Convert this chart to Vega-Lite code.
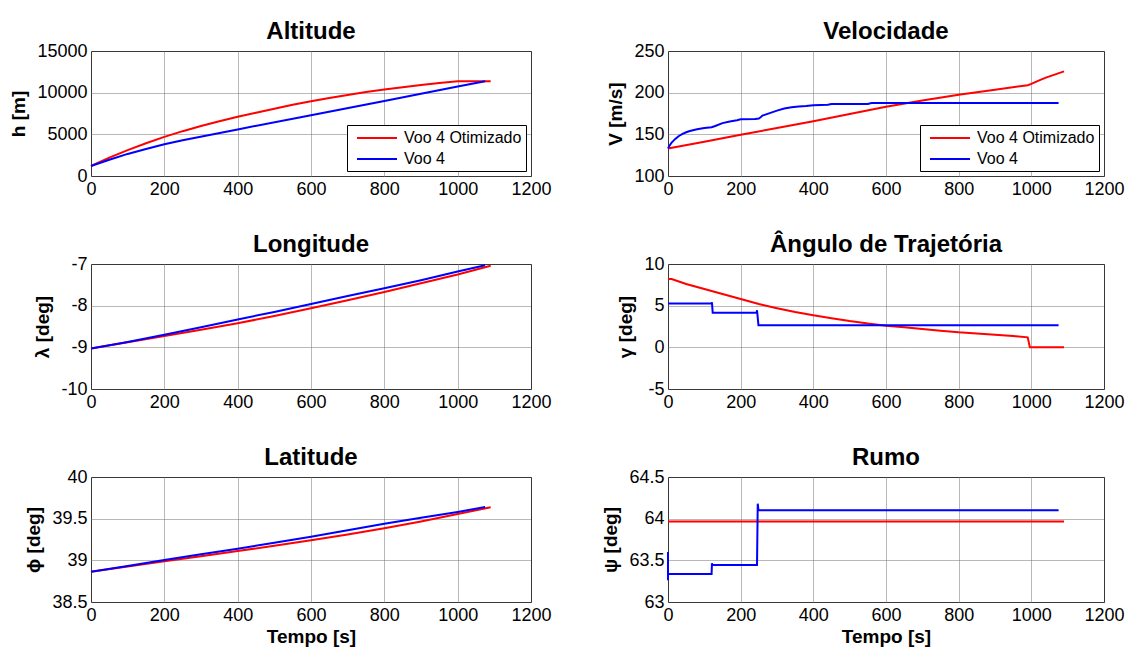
{
  "$schema": "https://vega.github.io/schema/vega-lite/v6.json",
  "background": "white",
  "padding": {"left": 9, "top": 19, "right": 5, "bottom": 5},
  "columns": 2,
  "bounds": "flush",
  "spacing": {"row": 88, "column": 137},
  "datasets": {
    "alt": [
      {"s": "Voo 4 Otimizado", "t": 0, "v": 1200}, {"s": "Voo 4 Otimizado", "t": 50, "v": 2200}, {"s": "Voo 4 Otimizado", "t": 100, "v": 3100},
      {"s": "Voo 4 Otimizado", "t": 150, "v": 3930}, {"s": "Voo 4 Otimizado", "t": 200, "v": 4700}, {"s": "Voo 4 Otimizado", "t": 250, "v": 5380},
      {"s": "Voo 4 Otimizado", "t": 300, "v": 6000}, {"s": "Voo 4 Otimizado", "t": 350, "v": 6580}, {"s": "Voo 4 Otimizado", "t": 400, "v": 7100},
      {"s": "Voo 4 Otimizado", "t": 450, "v": 7600}, {"s": "Voo 4 Otimizado", "t": 500, "v": 8080}, {"s": "Voo 4 Otimizado", "t": 550, "v": 8550},
      {"s": "Voo 4 Otimizado", "t": 600, "v": 8980}, {"s": "Voo 4 Otimizado", "t": 650, "v": 9370}, {"s": "Voo 4 Otimizado", "t": 700, "v": 9730},
      {"s": "Voo 4 Otimizado", "t": 750, "v": 10070}, {"s": "Voo 4 Otimizado", "t": 800, "v": 10380}, {"s": "Voo 4 Otimizado", "t": 850, "v": 10660},
      {"s": "Voo 4 Otimizado", "t": 900, "v": 10930}, {"s": "Voo 4 Otimizado", "t": 950, "v": 11160}, {"s": "Voo 4 Otimizado", "t": 1000, "v": 11360},
      {"s": "Voo 4 Otimizado", "t": 1090, "v": 11370},
      {"s": "Voo 4", "t": 0, "v": 1200}, {"s": "Voo 4", "t": 50, "v": 1950}, {"s": "Voo 4", "t": 100, "v": 2650},
      {"s": "Voo 4", "t": 150, "v": 3250}, {"s": "Voo 4", "t": 200, "v": 3800}, {"s": "Voo 4", "t": 250, "v": 4300},
      {"s": "Voo 4", "t": 400, "v": 5590}, {"s": "Voo 4", "t": 600, "v": 7300}, {"s": "Voo 4", "t": 800, "v": 9010},
      {"s": "Voo 4", "t": 1000, "v": 10730}, {"s": "Voo 4", "t": 1075, "v": 11370}
    ],
    "vel": [
      {"s": "Voo 4 Otimizado", "t": 0, "v": 133}, {"s": "Voo 4 Otimizado", "t": 100, "v": 141}, {"s": "Voo 4 Otimizado", "t": 200, "v": 149.5},
      {"s": "Voo 4 Otimizado", "t": 300, "v": 157.5}, {"s": "Voo 4 Otimizado", "t": 400, "v": 165.8}, {"s": "Voo 4 Otimizado", "t": 500, "v": 174.5},
      {"s": "Voo 4 Otimizado", "t": 600, "v": 183}, {"s": "Voo 4 Otimizado", "t": 700, "v": 190.5}, {"s": "Voo 4 Otimizado", "t": 800, "v": 197.5},
      {"s": "Voo 4 Otimizado", "t": 900, "v": 203.5}, {"s": "Voo 4 Otimizado", "t": 990, "v": 209}, {"s": "Voo 4 Otimizado", "t": 1000, "v": 210.5},
      {"s": "Voo 4 Otimizado", "t": 1020, "v": 214.5}, {"s": "Voo 4 Otimizado", "t": 1040, "v": 218}, {"s": "Voo 4 Otimizado", "t": 1060, "v": 221},
      {"s": "Voo 4 Otimizado", "t": 1090, "v": 225.5},
      {"s": "Voo 4", "t": 0, "v": 133}, {"s": "Voo 4", "t": 5, "v": 137}, {"s": "Voo 4", "t": 10, "v": 140},
      {"s": "Voo 4", "t": 20, "v": 144.5}, {"s": "Voo 4", "t": 30, "v": 148}, {"s": "Voo 4", "t": 40, "v": 150.5},
      {"s": "Voo 4", "t": 50, "v": 152.5}, {"s": "Voo 4", "t": 60, "v": 154}, {"s": "Voo 4", "t": 80, "v": 156},
      {"s": "Voo 4", "t": 100, "v": 157.5}, {"s": "Voo 4", "t": 120, "v": 158.5}, {"s": "Voo 4", "t": 130, "v": 160},
      {"s": "Voo 4", "t": 150, "v": 163.5}, {"s": "Voo 4", "t": 170, "v": 165.5}, {"s": "Voo 4", "t": 190, "v": 167},
      {"s": "Voo 4", "t": 200, "v": 168}, {"s": "Voo 4", "t": 240, "v": 168.5}, {"s": "Voo 4", "t": 250, "v": 169},
      {"s": "Voo 4", "t": 255, "v": 170.5}, {"s": "Voo 4", "t": 260, "v": 172.5}, {"s": "Voo 4", "t": 280, "v": 175.5},
      {"s": "Voo 4", "t": 300, "v": 178.5}, {"s": "Voo 4", "t": 320, "v": 181}, {"s": "Voo 4", "t": 340, "v": 182.5},
      {"s": "Voo 4", "t": 360, "v": 183.5}, {"s": "Voo 4", "t": 380, "v": 184}, {"s": "Voo 4", "t": 400, "v": 185},
      {"s": "Voo 4", "t": 440, "v": 185.5}, {"s": "Voo 4", "t": 450, "v": 186.5}, {"s": "Voo 4", "t": 550, "v": 186.5},
      {"s": "Voo 4", "t": 560, "v": 187.5}, {"s": "Voo 4", "t": 1075, "v": 187.5}
    ],
    "lon": [
      {"s": "Voo 4 Otimizado", "t": 0, "v": -9.03}, {"s": "Voo 4 Otimizado", "t": 100, "v": -8.88}, {"s": "Voo 4 Otimizado", "t": 200, "v": -8.73},
      {"s": "Voo 4 Otimizado", "t": 300, "v": -8.58}, {"s": "Voo 4 Otimizado", "t": 400, "v": -8.42}, {"s": "Voo 4 Otimizado", "t": 500, "v": -8.25},
      {"s": "Voo 4 Otimizado", "t": 600, "v": -8.06}, {"s": "Voo 4 Otimizado", "t": 700, "v": -7.87}, {"s": "Voo 4 Otimizado", "t": 800, "v": -7.67},
      {"s": "Voo 4 Otimizado", "t": 900, "v": -7.46}, {"s": "Voo 4 Otimizado", "t": 1000, "v": -7.25}, {"s": "Voo 4 Otimizado", "t": 1090, "v": -7.04},
      {"s": "Voo 4", "t": 0, "v": -9.03}, {"s": "Voo 4", "t": 100, "v": -8.87}, {"s": "Voo 4", "t": 200, "v": -8.70},
      {"s": "Voo 4", "t": 300, "v": -8.52}, {"s": "Voo 4", "t": 400, "v": -8.33}, {"s": "Voo 4", "t": 500, "v": -8.15},
      {"s": "Voo 4", "t": 600, "v": -7.96}, {"s": "Voo 4", "t": 700, "v": -7.77}, {"s": "Voo 4", "t": 800, "v": -7.58},
      {"s": "Voo 4", "t": 900, "v": -7.39}, {"s": "Voo 4", "t": 1000, "v": -7.18}, {"s": "Voo 4", "t": 1075, "v": -7.03}
    ],
    "gam": [
      {"s": "Voo 4 Otimizado", "t": 0, "v": 8.2}, {"s": "Voo 4 Otimizado", "t": 10, "v": 8.2}, {"s": "Voo 4 Otimizado", "t": 50, "v": 7.6},
      {"s": "Voo 4 Otimizado", "t": 100, "v": 7.0}, {"s": "Voo 4 Otimizado", "t": 150, "v": 6.4}, {"s": "Voo 4 Otimizado", "t": 200, "v": 5.8},
      {"s": "Voo 4 Otimizado", "t": 250, "v": 5.2}, {"s": "Voo 4 Otimizado", "t": 300, "v": 4.7}, {"s": "Voo 4 Otimizado", "t": 350, "v": 4.25},
      {"s": "Voo 4 Otimizado", "t": 400, "v": 3.85}, {"s": "Voo 4 Otimizado", "t": 450, "v": 3.5}, {"s": "Voo 4 Otimizado", "t": 500, "v": 3.15},
      {"s": "Voo 4 Otimizado", "t": 550, "v": 2.85}, {"s": "Voo 4 Otimizado", "t": 600, "v": 2.6}, {"s": "Voo 4 Otimizado", "t": 650, "v": 2.4},
      {"s": "Voo 4 Otimizado", "t": 700, "v": 2.2}, {"s": "Voo 4 Otimizado", "t": 750, "v": 2.0}, {"s": "Voo 4 Otimizado", "t": 800, "v": 1.8},
      {"s": "Voo 4 Otimizado", "t": 850, "v": 1.65}, {"s": "Voo 4 Otimizado", "t": 900, "v": 1.5}, {"s": "Voo 4 Otimizado", "t": 950, "v": 1.35},
      {"s": "Voo 4 Otimizado", "t": 990, "v": 1.2}, {"s": "Voo 4 Otimizado", "t": 996, "v": 0}, {"s": "Voo 4 Otimizado", "t": 1090, "v": 0},
      {"s": "Voo 4", "t": 0, "v": 5.25}, {"s": "Voo 4", "t": 120, "v": 5.25}, {"s": "Voo 4", "t": 121, "v": 5.4},
      {"s": "Voo 4", "t": 123, "v": 4.15}, {"s": "Voo 4", "t": 244, "v": 4.15}, {"s": "Voo 4", "t": 245, "v": 4.45},
      {"s": "Voo 4", "t": 249, "v": 2.65}, {"s": "Voo 4", "t": 1075, "v": 2.65}
    ],
    "lat": [
      {"s": "Voo 4 Otimizado", "t": 0, "v": 38.864}, {"s": "Voo 4 Otimizado", "t": 100, "v": 38.925}, {"s": "Voo 4 Otimizado", "t": 200, "v": 38.988},
      {"s": "Voo 4 Otimizado", "t": 300, "v": 39.05}, {"s": "Voo 4 Otimizado", "t": 400, "v": 39.112}, {"s": "Voo 4 Otimizado", "t": 500, "v": 39.175},
      {"s": "Voo 4 Otimizado", "t": 600, "v": 39.24}, {"s": "Voo 4 Otimizado", "t": 700, "v": 39.31}, {"s": "Voo 4 Otimizado", "t": 800, "v": 39.384},
      {"s": "Voo 4 Otimizado", "t": 900, "v": 39.465}, {"s": "Voo 4 Otimizado", "t": 1000, "v": 39.556}, {"s": "Voo 4 Otimizado", "t": 1090, "v": 39.636},
      {"s": "Voo 4", "t": 0, "v": 38.864}, {"s": "Voo 4", "t": 100, "v": 38.933}, {"s": "Voo 4", "t": 200, "v": 39.004},
      {"s": "Voo 4", "t": 300, "v": 39.072}, {"s": "Voo 4", "t": 400, "v": 39.14}, {"s": "Voo 4", "t": 500, "v": 39.212},
      {"s": "Voo 4", "t": 600, "v": 39.284}, {"s": "Voo 4", "t": 700, "v": 39.36}, {"s": "Voo 4", "t": 800, "v": 39.44},
      {"s": "Voo 4", "t": 900, "v": 39.51}, {"s": "Voo 4", "t": 1000, "v": 39.58}, {"s": "Voo 4", "t": 1075, "v": 39.64}
    ],
    "rum": [
      {"s": "Voo 4 Otimizado", "t": 0, "v": 63.965}, {"s": "Voo 4 Otimizado", "t": 1090, "v": 63.965},
      {"s": "Voo 4", "t": 0, "v": 63.6}, {"s": "Voo 4", "t": 0, "v": 63.26}, {"s": "Voo 4", "t": 0, "v": 63.335},
      {"s": "Voo 4", "t": 120, "v": 63.335}, {"s": "Voo 4", "t": 121, "v": 63.465}, {"s": "Voo 4", "t": 122, "v": 63.445},
      {"s": "Voo 4", "t": 245, "v": 63.445}, {"s": "Voo 4", "t": 247, "v": 64.18}, {"s": "Voo 4", "t": 249, "v": 64.1},
      {"s": "Voo 4", "t": 1075, "v": 64.1}
    ]
  },
  "concat": [
    {
      "title": "Altitude", "width": 440, "height": 125,
      "data": {"name": "alt"},
      "mark": {"type": "line", "strokeWidth": 2},
      "encoding": {
        "x": {"field": "t", "type": "quantitative", "scale": {"domain": [0, 1200], "nice": false}, "axis": {"values": [0, 200, 400, 600, 800, 1000, 1200], "title": null, "labelExpr": "'' + datum.value"}},
        "y": {"field": "v", "type": "quantitative", "scale": {"domain": [0, 15000], "nice": false, "zero": false}, "axis": {"values": [0, 5000, 10000, 15000], "title": "h [m]", "labelExpr": "'' + datum.value"}},
        "color": {"field": "s", "type": "nominal", "scale": {"domain": ["Voo 4 Otimizado", "Voo 4"], "range": ["#ff0000", "#0000ff"]}, "legend": {"title": null, "orient": "bottom-right"}},
        "order": {"value": null}
      }
    },
    {
      "title": "Velocidade", "width": 436, "height": 125,
      "data": {"name": "vel"},
      "mark": {"type": "line", "strokeWidth": 2},
      "encoding": {
        "x": {"field": "t", "type": "quantitative", "scale": {"domain": [0, 1200], "nice": false}, "axis": {"values": [0, 200, 400, 600, 800, 1000, 1200], "title": null, "labelExpr": "'' + datum.value"}},
        "y": {"field": "v", "type": "quantitative", "scale": {"domain": [100, 250], "nice": false, "zero": false}, "axis": {"values": [100, 150, 200, 250], "title": "V [m/s]", "labelExpr": "'' + datum.value"}},
        "color": {"field": "s", "type": "nominal", "scale": {"domain": ["Voo 4 Otimizado", "Voo 4"], "range": ["#ff0000", "#0000ff"]}, "legend": {"title": null, "orient": "bottom-right"}},
        "order": {"value": null}
      }
    },
    {
      "title": "Longitude", "width": 440, "height": 125,
      "data": {"name": "lon"},
      "mark": {"type": "line", "strokeWidth": 2},
      "encoding": {
        "x": {"field": "t", "type": "quantitative", "scale": {"domain": [0, 1200], "nice": false}, "axis": {"values": [0, 200, 400, 600, 800, 1000, 1200], "title": null, "labelExpr": "'' + datum.value"}},
        "y": {"field": "v", "type": "quantitative", "scale": {"domain": [-10, -7], "nice": false, "zero": false}, "axis": {"values": [-10, -9, -8, -7], "title": "λ [deg]", "labelExpr": "'' + datum.value"}},
        "color": {"field": "s", "type": "nominal", "scale": {"domain": ["Voo 4 Otimizado", "Voo 4"], "range": ["#ff0000", "#0000ff"]}, "legend": null},
        "order": {"value": null}
      }
    },
    {
      "title": "Ângulo de Trajetória", "width": 436, "height": 125,
      "data": {"name": "gam"},
      "mark": {"type": "line", "strokeWidth": 2},
      "encoding": {
        "x": {"field": "t", "type": "quantitative", "scale": {"domain": [0, 1200], "nice": false}, "axis": {"values": [0, 200, 400, 600, 800, 1000, 1200], "title": null, "labelExpr": "'' + datum.value"}},
        "y": {"field": "v", "type": "quantitative", "scale": {"domain": [-5, 10], "nice": false, "zero": false}, "axis": {"values": [-5, 0, 5, 10], "title": "γ [deg]", "labelExpr": "'' + datum.value"}},
        "color": {"field": "s", "type": "nominal", "scale": {"domain": ["Voo 4 Otimizado", "Voo 4"], "range": ["#ff0000", "#0000ff"]}, "legend": null},
        "order": {"value": null}
      }
    },
    {
      "title": "Latitude", "width": 440, "height": 125,
      "data": {"name": "lat"},
      "mark": {"type": "line", "strokeWidth": 2},
      "encoding": {
        "x": {"field": "t", "type": "quantitative", "scale": {"domain": [0, 1200], "nice": false}, "axis": {"values": [0, 200, 400, 600, 800, 1000, 1200], "title": "Tempo [s]", "labelExpr": "'' + datum.value"}},
        "y": {"field": "v", "type": "quantitative", "scale": {"domain": [38.5, 40], "nice": false, "zero": false}, "axis": {"values": [38.5, 39, 39.5, 40], "title": "ϕ [deg]", "labelExpr": "'' + datum.value"}},
        "color": {"field": "s", "type": "nominal", "scale": {"domain": ["Voo 4 Otimizado", "Voo 4"], "range": ["#ff0000", "#0000ff"]}, "legend": null},
        "order": {"value": null}
      }
    },
    {
      "title": "Rumo", "width": 436, "height": 125,
      "data": {"name": "rum"},
      "mark": {"type": "line", "strokeWidth": 2},
      "encoding": {
        "x": {"field": "t", "type": "quantitative", "scale": {"domain": [0, 1200], "nice": false}, "axis": {"values": [0, 200, 400, 600, 800, 1000, 1200], "title": "Tempo [s]", "labelExpr": "'' + datum.value"}},
        "y": {"field": "v", "type": "quantitative", "scale": {"domain": [63, 64.5], "nice": false, "zero": false}, "axis": {"values": [63, 63.5, 64, 64.5], "title": "ψ [deg]", "labelExpr": "'' + datum.value"}},
        "color": {"field": "s", "type": "nominal", "scale": {"domain": ["Voo 4 Otimizado", "Voo 4"], "range": ["#ff0000", "#0000ff"]}, "legend": null},
        "order": {"value": null}
      }
    }
  ],
  "resolve": {"scale": {"color": "independent"}, "legend": {"color": "independent"}},
  "config": {
    "font": "Liberation Sans",
    "view": {"stroke": "black", "strokeWidth": 1},
    "axis": {
      "labelFont": "Liberation Sans", "labelFontSize": 18, "labelColor": "black",
      "titleFont": "Liberation Sans", "titleFontSize": 19, "titleFontWeight": "bold", "titleColor": "black",
      "ticks": false, "domain": false, "grid": true, "gridColor": "#707070", "gridDash": [1, 1], "gridOpacity": 1, "gridWidth": 1,
      "labelPadding": 4, "labelFlush": false, "labelOverlap": false, "titlePadding": 8
    },
    "axisX": {"titlePadding": 3},
    "title": {"font": "Liberation Sans", "fontSize": 24, "fontWeight": "bold", "color": "black", "offset": 3, "dy": 5},
    "legend": {
      "offset": 5, "strokeColor": "black", "fillColor": "white", "padding": 4, "cornerRadius": 0,
      "symbolType": "M-2.5,0H2.5", "symbolSize": 256, "symbolStrokeWidth": 2, "symbolOffset": 17,
      "labelFont": "Liberation Sans", "labelFontSize": 16, "labelColor": "black", "labelOffset": 18, "rowPadding": 4
    }
  }
}
